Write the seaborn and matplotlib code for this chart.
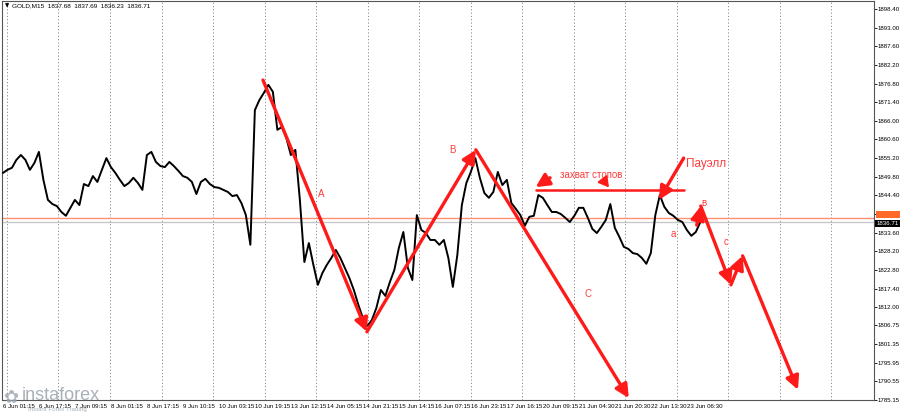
import seaborn as sns
import matplotlib.pyplot as plt
import numpy as np
import pandas as pd

# GOLD M15, one close every 2 hours (8 bars)
close = [
    1850.9, 1851.8, 1852.4, 1854.7, 1856.1, 1854.7, 1851.8, 1853.8, 1857.0, 1848.9,
    1843.1, 1841.9, 1841.3, 1839.6, 1838.5, 1840.8, 1843.1, 1841.6, 1847.7, 1847.1,
    1850.0, 1848.3, 1851.8, 1855.2, 1852.6, 1850.9, 1848.9, 1847.1, 1848.0, 1849.5,
    1848.0, 1846.0, 1856.1, 1857.0, 1854.1, 1852.9, 1852.6, 1854.1, 1852.9, 1851.5,
    1850.0, 1849.5, 1848.3, 1844.8, 1848.3, 1849.2, 1847.7, 1846.8, 1846.6, 1846.0,
    1845.4, 1844.2, 1844.5, 1842.2, 1838.7, 1830.1, 1869.1, 1872.0, 1874.1, 1876.4,
    1874.4, 1863.4, 1864.2, 1861.0, 1856.1, 1857.6, 1843.1, 1825.1, 1830.6, 1824.3,
    1818.5, 1821.9, 1824.3, 1826.3, 1828.6, 1826.3, 1823.4, 1820.5, 1817.0, 1812.7,
    1808.9, 1806.6, 1808.3, 1811.8, 1817.0, 1815.3, 1819.3, 1822.8, 1829.2, 1833.8,
    1823.4, 1819.9, 1838.7, 1834.4, 1833.5, 1831.5, 1831.5, 1830.1, 1831.5, 1826.3,
    1817.9, 1827.2, 1841.6, 1848.0, 1851.2, 1855.2, 1849.5, 1845.1, 1843.7, 1845.4,
    1851.2, 1847.4, 1848.9, 1842.2, 1840.5, 1838.7, 1835.6, 1838.2, 1838.5, 1844.5,
    1843.7, 1841.6, 1839.6, 1839.6, 1839.0, 1837.9, 1836.7, 1838.5, 1840.8, 1840.8,
    1837.9, 1834.7, 1833.5, 1835.3, 1837.3, 1841.9, 1835.0, 1832.4, 1829.5, 1828.9,
    1827.7, 1827.4, 1826.3, 1824.6, 1827.7, 1838.7, 1844.5, 1841.1, 1839.3, 1838.5,
    1837.3, 1836.7, 1834.4, 1832.7, 1833.8, 1836.7,
]

time_labels = [
    "6 Jun 01:15", "6 Jun 17:15", "7 Jun 09:15", "8 Jun 01:15", "8 Jun 17:15",
    "9 Jun 10:15", "10 Jun 03:15", "10 Jun 19:15", "13 Jun 12:15", "14 Jun 05:15",
    "14 Jun 21:15", "15 Jun 14:15", "16 Jun 07:15", "16 Jun 23:15", "17 Jun 16:15",
    "20 Jun 09:15", "21 Jun 04:30", "21 Jun 20:30", "22 Jun 13:30", "23 Jun 06:30",
]

price_ticks = [
    1898.40, 1893.00, 1887.60, 1882.20, 1876.80, 1871.40, 1866.00, 1860.60, 1855.20,
    1849.80, 1844.40, 1839.00, 1833.60, 1828.20, 1822.80, 1817.40, 1812.00, 1806.75,
    1801.35, 1795.95, 1790.55, 1785.15,
]

bid = 1836.71
hline_price = 1837.9
header = "GOLD,M15  1837.68  1837.69  1836.23  1836.71"

# wave pivots (bar slot, price)
wave_abc = [(57.8, 1877.8), (80.9, 1804.9), (105.1, 1857.6), (139.1, 1785.7)]
wave_forecast = [(154.2, 1835.8), (155.1, 1841.3), (161.8, 1818.5), (164.4, 1826.9), (176.7, 1788.1)]
stops_level = 1846.0
stops_span = (118.4, 151.3)

df = pd.DataFrame({"bar": np.arange(len(close)), "close": close})

sns.set_style("white")
fig = plt.figure(figsize=(9, 4.13), dpi=100)
ax = fig.add_axes([2 / 900, 13 / 413, 872 / 900, 399 / 413])

small = "Liberation Sans"
red = "#ff1a1a"
txt_red = "#ff3b3b"

# vertical dotted grid like MT4
for gx in np.arange(0.9, 194, 11.45):
    ax.axvline(gx, color="#8a8a8a", lw=0.7, ls=(0, (1.2, 2.2)), zorder=0)

ax.axhline(hline_price, color="#ff9070", lw=1.0, zorder=1)
ax.axhline(bid, color="#c8c8c8", lw=1.0, zorder=1)

sns.lineplot(data=df, x="bar", y="close", ax=ax, color="black", lw=1.4, zorder=3)

arrow_kw = dict(arrowstyle="-|>,head_length=0.8,head_width=0.4", color=red, lw=2.4,
                shrinkA=0, shrinkB=0)


def draw_path(points):
    for (x0, y0), (x1, y1) in zip(points[:-1], points[1:]):
        ax.annotate("", xy=(x1, y1), xytext=(x0, y0), arrowprops=arrow_kw, zorder=5)


draw_path(wave_abc)
draw_path(wave_forecast)

ax.plot(stops_span, [stops_level, stops_level], color=red, lw=1.8, zorder=5)
ax.annotate("", xy=(118.4, 1846.8), xytext=(121.6, 1849.5), arrowprops=arrow_kw, zorder=5)
ax.annotate("", xy=(134.7, 1846.7), xytext=(133.4, 1848.9),
            arrowprops=dict(arrowstyle="-|>,head_length=0.6,head_width=0.35", color=red, lw=1.5,
                            shrinkA=0, shrinkB=0), zorder=5)
ax.text(130.7, 1850.2, "захват стопов", color=txt_red, fontsize=7, family=small,
        ha="center", va="center")
ax.annotate("", xy=(145.8, 1843.1), xytext=(151.3, 1855.2), arrowprops=arrow_kw, zorder=5)
ax.text(151.8, 1853.4, "Пауэлл", color=txt_red, fontsize=8.5, family=small,
        ha="left", va="center")

for lx, ly, s in [(70.7, 1844.8, "A"), (99.8, 1857.6, "B"), (130.0, 1815.9, "C"),
                  (149.1, 1833.2, "a"), (155.8, 1842.2, "в"), (160.7, 1830.9, "c")]:
    ax.text(lx, ly, s, color=txt_red, fontsize=7, family=small, ha="center", va="center",
            bbox=dict(boxstyle="square,pad=0.05", fc="white", ec="none"), zorder=4)

ax.set_xlim(-0.2, 193.6)
ax.set_ylim(1785.15, 1900.7)

ax.set_xticks(np.arange(0, 8 * len(time_labels), 8))
ax.set_xticklabels(time_labels, fontsize=4.4, family=small, ha="left")
ax.yaxis.tick_right()
ax.set_yticks(price_ticks)
ax.set_yticklabels([f"{p:.2f}" for p in price_ticks], fontsize=4.4, family=small)
ax.tick_params(axis="both", direction="out", length=2, width=0.6, pad=0.8, colors="black")
ax.set_xlabel("")
ax.set_ylabel("")
for sp in ax.spines.values():
    sp.set_color("#555555")
    sp.set_linewidth(0.8)

# price boxes on the right scale
ax.text(1.003, hline_price + 1.0, "1837.90", transform=ax.get_yaxis_transform(), fontsize=4.4,
        family=small, color="#ff6a2a", va="center", ha="left",
        bbox=dict(boxstyle="square,pad=0.15", fc="#ff6a2a", ec="none"))
ax.text(1.003, bid - 0.5, f"{bid:.2f}", transform=ax.get_yaxis_transform(), fontsize=4.4,
        family=small, color="white", va="center", ha="left",
        bbox=dict(boxstyle="square,pad=0.2", fc="black", ec="none"))

fig.text(5 / 900, 1 - 6 / 413, "▼", fontsize=4, color="black", va="center", ha="left")
fig.text(12 / 900, 1 - 6 / 413, header, fontsize=4.6, family=small, color="black",
         va="center", ha="left")

# broker logo
fig.text(3 / 900, 6 / 413, "✿", fontsize=13, color="#9aa3ad", alpha=0.8, va="bottom", ha="left")
fig.text(22 / 900, 9 / 413, "instaforex", fontsize=13, color="#9aa3ad", alpha=0.85,
         va="bottom", ha="left", family=small)
fig.text(28 / 900, 1 / 413, "Instant Forex Trading", fontsize=4.5, color="#9aa3ad", alpha=0.85,
         va="bottom", ha="left", family=small)

fig.savefig("out.png", dpi=100)
